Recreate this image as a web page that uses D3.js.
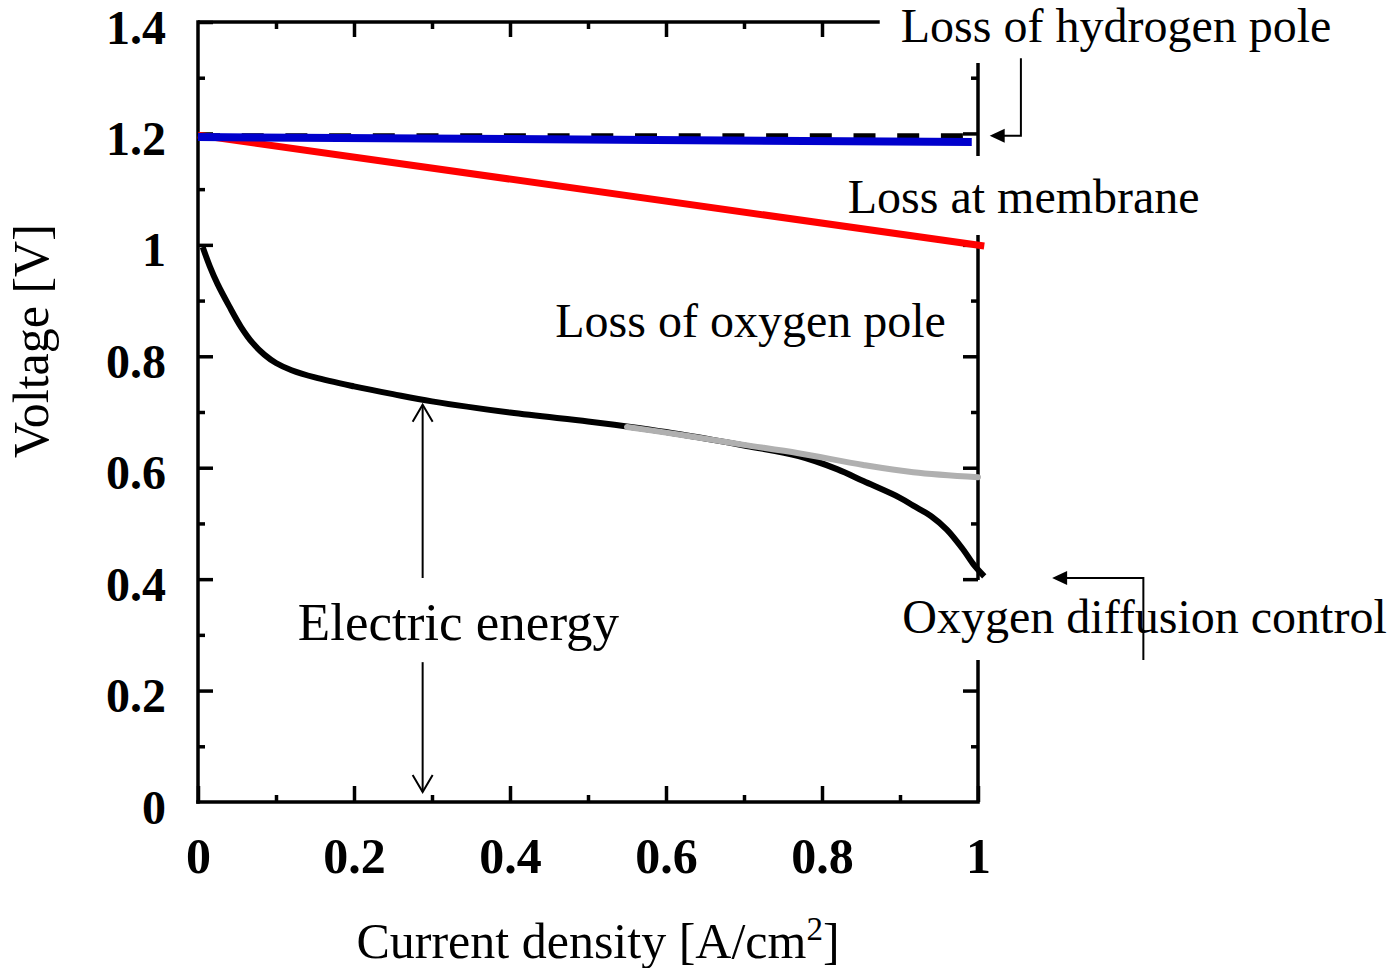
<!DOCTYPE html>
<html>
<head>
<meta charset="utf-8">
<script src="https://cdn.jsdelivr.net/npm/d3@7"></script>
<style>
  html, body { margin: 0; padding: 0; background: #fff; }
  svg text { font-family: "Liberation Serif", "Times New Roman", serif; fill: #000; }
</style>
</head>
<body>
<svg id="chart" width="1399" height="968"></svg>
<script>
// ---- Axis ticks ----
const xMajorTicks = [0, 0.2, 0.4, 0.6, 0.8, 1];
const xMinorTicks = [0.1, 0.3, 0.5, 0.7, 0.9];
const xTickLabels = ["0", "0.2", "0.4", "0.6", "0.8", "1"];
const yMajorTicks = [0, 0.2, 0.4, 0.6, 0.8, 1, 1.2, 1.4];
const yMinorTicks = [0.1, 0.3, 0.5, 0.7, 0.9, 1.1, 1.3];
const yTickLabels = ["0", "0.2", "0.4", "0.6", "0.8", "1", "1.2", "1.4"];

// ---- Polarization curves (current density A/cm2, voltage V) ----
// theoretical (open-circuit) voltage
const theoryCurrent = [0, 0.985];
const theoryVoltage = [1.196, 1.196];
// after hydrogen-pole loss
const anodeCurrent = [0, 0.992];
const anodeVoltage = [1.1935, 1.1845];
// after membrane (ohmic) loss
const membraneCurrent = [0, 1.008];
const membraneVoltage = [1.197, 0.998];
// cell voltage including oxygen-pole loss and diffusion control
const cellCurrent = [0.006, 0.015, 0.025, 0.04, 0.055, 0.07, 0.085, 0.1, 0.12, 0.15, 0.2, 0.25, 0.3,
                     0.4, 0.5, 0.55, 0.6, 0.66, 0.7, 0.77, 0.82, 0.853, 0.9, 0.917, 0.94, 0.96, 0.98, 0.995, 1.008];
const cellVoltage = [0.996, 0.962, 0.93, 0.89, 0.853, 0.824, 0.803, 0.788, 0.775, 0.762, 0.746, 0.732, 0.719,
                     0.699, 0.683, 0.674, 0.664, 0.65, 0.64, 0.621, 0.597, 0.576, 0.546, 0.532, 0.513, 0.489, 0.455, 0.425, 0.405];
// cell voltage without oxygen diffusion limitation
const noDiffCurrent = [0.55, 0.6, 0.66, 0.7, 0.77, 0.853, 0.917, 1.0];
const noDiffVoltage = [0.673, 0.663, 0.65, 0.641, 0.626, 0.605, 0.592, 0.583];

// ---- Annotations (data coordinates) ----
const annotationText = ["Loss of hydrogen pole", "Loss at membrane", "Loss of oxygen pole", "Electric energy", "Oxygen diffusion control"];
const annotationX = [0.901, 0.833, 0.458, 0.128, 0.903];
const annotationY = [1.364, 1.057, 0.835, 0.291, 0.303];
const annotationSize = [48, 48, 48, 53, 48];

// ---- Layout ----
const svg = d3.select("#chart");
const x = d3.scaleLinear().domain([0, 1]).range([198, 978]);
const y = d3.scaleLinear().domain([0, 1.4]).range([802, 22]);

const frameWidth = 3.5;
const topEnd = 0.874;                                     // top edge stops before the hydrogen label
const rightSegments = [[1.3264, 1.1595], [1.0177, 0.3985], [0.2549, 0]]; // right edge, broken at labels
const onRight = v => rightSegments.some(s => v <= s[0] + 1e-9 && v >= s[1] - 1e-9);

const frame = svg.append("g").attr("stroke", "#000").attr("stroke-width", frameWidth).attr("stroke-linecap", "square");
frame.append("line").attr("x1", x(0)).attr("x2", x(0)).attr("y1", y(1.4)).attr("y2", y(0));
frame.append("line").attr("x1", x(0)).attr("x2", x(1)).attr("y1", y(0)).attr("y2", y(0));
frame.append("line").attr("x1", x(0)).attr("x2", x(topEnd)).attr("y1", y(1.4)).attr("y2", y(1.4)).attr("stroke-linecap", "butt");
rightSegments.forEach(s => {
  frame.append("line").attr("x1", x(1)).attr("x2", x(1)).attr("y1", y(s[0])).attr("y2", y(s[1])).attr("stroke-linecap", "butt");
});

function styleAxis(g) {
  g.select(".domain").remove();
  g.attr("font-family", null).attr("font-size", null);
  g.selectAll(".tick line").attr("stroke", "#000").attr("stroke-width", frameWidth);
}

// bottom
svg.append("g").attr("transform", `translate(0,${y(0)})`)
  .call(d3.axisBottom(x).tickValues(xMinorTicks).tickSize(-7).tickFormat(""))
  .call(styleAxis);
const bottom = svg.append("g").attr("transform", `translate(0,${y(0)})`)
  .call(d3.axisBottom(x).tickValues(xMajorTicks).tickSize(-16).tickFormat((d, i) => xTickLabels[i]))
  .call(styleAxis);
bottom.selectAll("text").attr("y", 71).attr("dy", 0)
  .style("font-size", "50px").style("font-weight", "bold");

// top
svg.append("g").attr("transform", `translate(0,${y(1.4)})`)
  .call(d3.axisTop(x).tickValues(xMinorTicks.filter(v => v <= topEnd)).tickSize(-7).tickFormat(""))
  .call(styleAxis);
svg.append("g").attr("transform", `translate(0,${y(1.4)})`)
  .call(d3.axisTop(x).tickValues(xMajorTicks.filter(v => v > 0 && v <= topEnd)).tickSize(-15).tickFormat(""))
  .call(styleAxis);

// left
svg.append("g").attr("transform", `translate(${x(0)},0)`)
  .call(d3.axisLeft(y).tickValues(yMinorTicks).tickSize(-7).tickFormat(""))
  .call(styleAxis);
const left = svg.append("g").attr("transform", `translate(${x(0)},0)`)
  .call(d3.axisLeft(y).tickValues(yMajorTicks).tickSize(-15).tickPadding(32).tickFormat((d, i) => yTickLabels[i]))
  .call(styleAxis);
left.selectAll("text").attr("dy", "0.44em")
  .style("font-size", "48px").style("font-weight", "bold");
left.selectAll(".tick").filter(d => d === 0).select("line").remove();

// right
svg.append("g").attr("transform", `translate(${x(1)},0)`)
  .call(d3.axisRight(y).tickValues(yMinorTicks.filter(onRight)).tickSize(-7).tickFormat(""))
  .call(styleAxis);
svg.append("g").attr("transform", `translate(${x(1)},0)`)
  .call(d3.axisRight(y).tickValues(yMajorTicks.filter(v => v > 0 && onRight(v))).tickSize(-15).tickFormat(""))
  .call(styleAxis);

// ---- Curves ----
const zip = (a, b) => a.map((v, i) => [v, b[i]]);
const straight = d3.line().x(d => x(d[0])).y(d => y(d[1]));
const smooth = d3.line().x(d => x(d[0])).y(d => y(d[1])).curve(d3.curveCatmullRom.alpha(0.5));

svg.append("path").datum(zip(theoryCurrent, theoryVoltage))
  .attr("d", straight).attr("fill", "none").attr("stroke", "#000")
  .attr("stroke-width", 5).attr("stroke-dasharray", "22 21.7");
svg.append("path").datum(zip(membraneCurrent, membraneVoltage))
  .attr("d", straight).attr("fill", "none").attr("stroke", "#ff0000").attr("stroke-width", 7);
svg.append("path").datum(zip(anodeCurrent, anodeVoltage))
  .attr("d", straight).attr("fill", "none").attr("stroke", "#0000cc").attr("stroke-width", 8);
svg.append("path").datum(zip(cellCurrent, cellVoltage))
  .attr("d", smooth).attr("fill", "none").attr("stroke", "#000").attr("stroke-width", 6);
svg.append("path").datum(zip(noDiffCurrent, noDiffVoltage))
  .attr("d", smooth).attr("fill", "none").attr("stroke", "#b0b0b0").attr("stroke-width", 6)
  .attr("stroke-linecap", "round");

// ---- Annotation arrows ----
const arrows = svg.append("g").attr("stroke", "#000").attr("fill", "none").attr("stroke-width", 2);

// hydrogen-pole loss: elbow pointing at the right edge
const hElbow = [[1.055, 1.335], [1.055, 1.196], [1.03, 1.196]];
arrows.append("path").datum(hElbow).attr("d", straight);
const hTip = [x(1.015), y(1.196)];
svg.append("path")
  .attr("d", `M${hTip[0]},${hTip[1]} L${hTip[0] + 15},${hTip[1] - 7} L${hTip[0] + 15},${hTip[1] + 7} Z`)
  .attr("fill", "#000");

// oxygen diffusion control: elbow pointing at the curve end
const oElbow = [[1.212, 0.255], [1.212, 0.402], [1.11, 0.402]];
arrows.append("path").datum(oElbow).attr("d", straight);
const oTip = [x(1.095), y(0.402)];
svg.append("path")
  .attr("d", `M${oTip[0]},${oTip[1]} L${oTip[0] + 15},${oTip[1] - 7} L${oTip[0] + 15},${oTip[1] + 7} Z`)
  .attr("fill", "#000");

// electric energy: double-headed span from the axis up to the curve
const eX = 0.288, eTop = 0.713, eBottom = 0.018;
arrows.append("path").datum([[eX, eTop], [eX, 0.402]]).attr("d", straight);
arrows.append("path").datum([[eX, 0.251], [eX, eBottom]]).attr("d", straight);
const ex = x(eX), et = y(eTop), eb = y(eBottom);
arrows.append("path").attr("d", `M${ex - 10},${et + 17} L${ex},${et} L${ex + 10},${et + 17}`);
arrows.append("path").attr("d", `M${ex - 10},${eb - 17} L${ex},${eb} L${ex + 10},${eb - 17}`);

// ---- Annotation text ----
annotationText.forEach((t, i) => {
  svg.append("text").attr("x", x(annotationX[i])).attr("y", y(annotationY[i]))
    .style("font-size", annotationSize[i] + "px").text(t);
});

// ---- Axis titles ----
const xTitle = svg.append("text").attr("x", 598).attr("y", 958)
  .attr("text-anchor", "middle").style("font-size", "50px");
xTitle.append("tspan").text("Current density [A/cm");
xTitle.append("tspan").attr("dy", -18).style("font-size", "33px").text("2");
xTitle.append("tspan").attr("dy", 18).text("]");

svg.append("text").attr("transform", "translate(48,341) rotate(-90)")
  .attr("text-anchor", "middle").style("font-size", "50px").text("Voltage [V]");
</script>
</body>
</html>
